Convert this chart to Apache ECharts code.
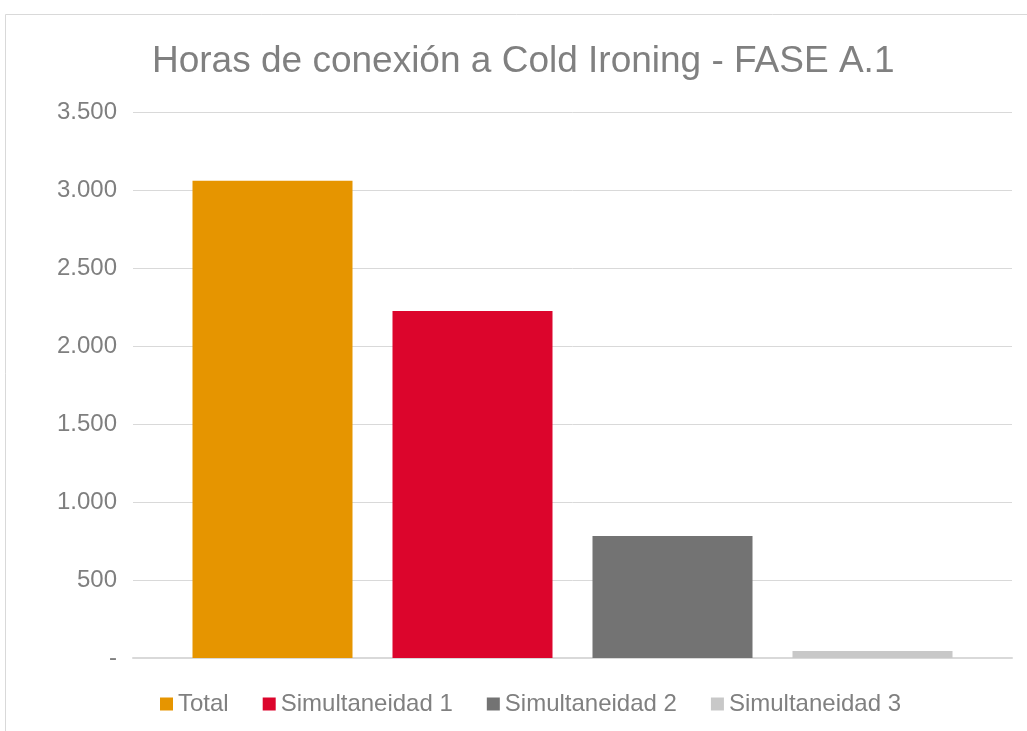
<!DOCTYPE html>
<html><head><meta charset="utf-8">
<script src="https://cdn.jsdelivr.net/npm/echarts@6/dist/echarts.min.js"></script>
<style>html,body{margin:0;padding:0;background:#fff}#c{width:1027px;height:731px}</style>
</head><body><div id="c"></div>
<script>
const categories = [''];
const seriesNames = ['Total', 'Simultaneidad 1', 'Simultaneidad 2', 'Simultaneidad 3'];
const seriesValues = [3060, 2225, 782, 45];
const seriesColors = ['#E69500', '#DC052C', '#737373', '#C8C8C8'];
const yTicks = [0, 500, 1000, 1500, 2000, 2500, 3000, 3500];

function fmt(v){
  if (v === 0) return '-';
  return String(v).replace(/\B(?=(\d{3})+(?!\d))/g, '.');
}

const chart = echarts.init(document.getElementById('c'));
chart.setOption({
  animation: false,
  backgroundColor: '#fff',
  graphic: [{
    type: 'rect', shape: {x: 5.5, y: 14.5, width: 1030, height: 730},
    style: {fill: 'none', stroke: '#d9d9d9', lineWidth: 1}, silent: true
  }],
  title: {
    text: 'Horas de conexión a Cold Ironing - FASE A.1',
    left: 147, top: 38,
    textStyle: {fontFamily: 'Liberation Sans, Arial', fontSize: 37, fontWeight: 'normal', color: '#808080'}
  },
  legend: {
    data: seriesNames, bottom: 10, left: 155,
    itemWidth: 13, itemHeight: 13, itemGap: 34, icon: 'rect',
    textStyle: {fontFamily: 'Liberation Sans, Arial', fontSize: 24, color: '#808080'}
  },
  grid: {left: 133, right: 15, top: 112, bottom: 73, containLabel: false},
  xAxis: {
    type: 'category', data: categories,
    axisLine: {lineStyle: {color: '#d9d9d9', width: 2}}, axisTick: {show: false}, axisLabel: {show: false}
  },
  yAxis: {
    type: 'value', min: yTicks[0], max: yTicks[yTicks.length-1], interval: 500,
    axisLine: {show: false}, axisTick: {show: false},
    splitLine: {lineStyle: {color: '#d9d9d9', width: 1}},
    axisLabel: {formatter: fmt, fontFamily: 'Liberation Sans, Arial', fontSize: 24, color: '#7f7f7f', margin: 16}
  },
  series: seriesNames.map((n, i) => ({
    name: n, type: 'bar', data: [seriesValues[i]],
    barWidth: 160, barGap: '25%',
    itemStyle: {color: seriesColors[i]}
  }))
});
</script></body></html>
